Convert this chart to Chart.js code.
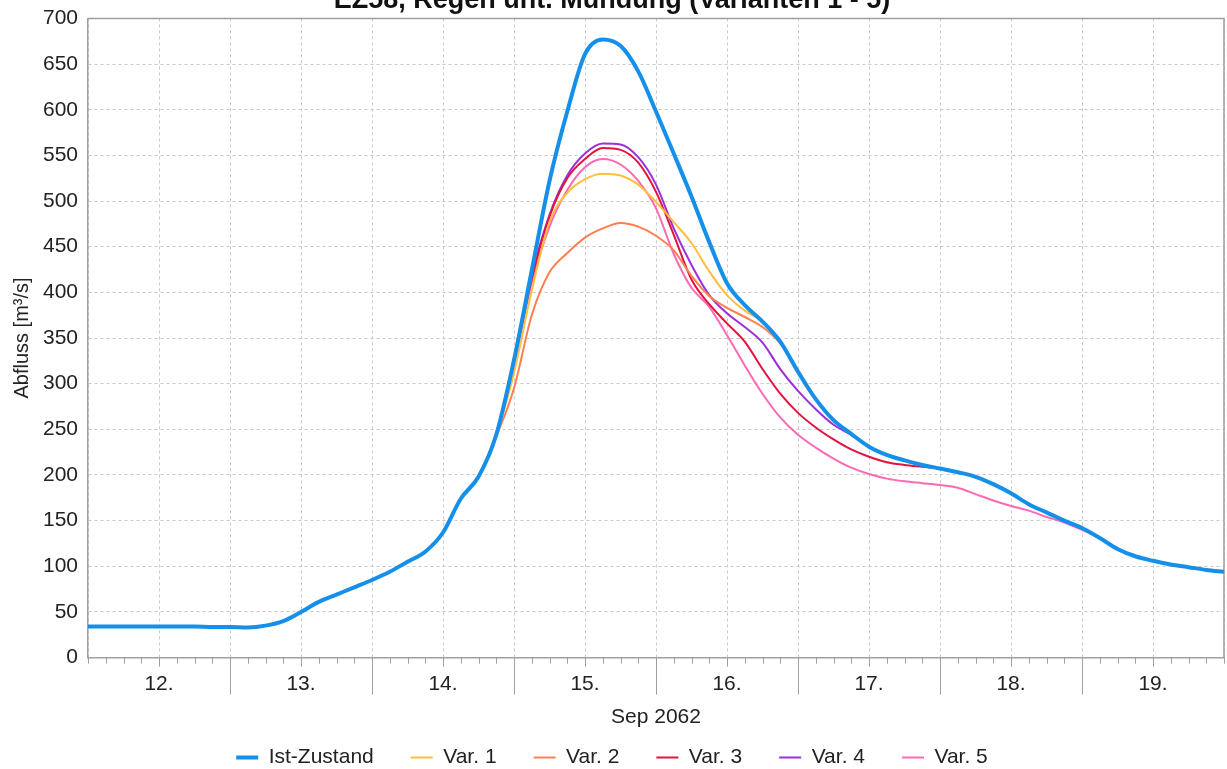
<!DOCTYPE html>
<html>
<head>
<meta charset="utf-8">
<script src="https://cdn.jsdelivr.net/npm/chart.js@4/dist/chart.umd.min.js"></script>
<style>
  html, body { margin: 0; padding: 0; background: #fff; overflow: hidden; }
  #wrap { position: absolute; left: 0; top: -16px; width: 1227px; height: 794px; }
</style>
</head>
<body>
<div id="wrap"><canvas id="chart"></canvas></div>
<script>
// hours since 12 Sep 2062 00:00, one sample every 3 h
const hours = [
  0, 3, 6, 9, 12, 15, 18, 21, 24, 27, 30, 33, 36, 39, 42, 45, 48, 51, 54, 57,
  60, 63, 66, 69, 72, 75, 78, 81, 84, 87, 90, 93, 96, 99, 102, 105, 108, 111, 114, 117,
  120, 123, 126, 129, 132, 135, 138, 141, 144, 147, 150, 153, 156, 159, 162, 165, 168, 171, 174, 177,
  180, 183, 186, 189, 192
];

const istZustand = [
  34, 34, 34, 34, 34, 34, 34, 33.5, 33.5, 33, 35, 40, 50, 61, 69, 77, 85, 94, 105, 116,
  137, 174, 198, 244, 326, 424, 522, 598, 661, 677, 670, 642, 598, 552, 505, 455, 410, 386, 368, 346,
  313, 283, 260, 245, 231, 222, 216, 211, 207, 203, 198, 190, 180, 168, 159, 150, 142, 131, 119, 111,
  106, 102, 99, 96, 94
];

const _ = null;
const var1 = [
  _, _, _, _, _, _, _, _, _, _, _, _, _, _, _, _, _, _, _, _,
  _, _, 198, 244, 312, 402, 477, 509, 524, 530, 528, 518, 499, 477, 454, 423, 397, 380, 368, 346,
  313, _, _, _, _, _, _, _, _, _, _, _, _, _, _, _, _, _, _, _,
  _, _, _, _, _
];
const var2 = [
  _, _, _, _, _, _, _, _, _, _, _, _, _, _, _, _, _, _, _, _,
  _, _, 198, 242, 295, 375, 422, 443, 460, 470, 476, 472, 462, 446, 418, 396, 383, 373, 362, 344,
  315, 284, 260, 245, _, _, _, _, _, _, _, _, _, _, _, _, _, _, _, _,
  _, _, _, _, _
];
const var3 = [
  _, _, _, _, _, _, _, _, _, _, _, _, _, _, _, _, _, _, _, _,
  _, _, 198, 244, 325, 415, 483, 525, 546, 558, 556, 542, 510, 463, 414, 387, 366, 346, 316, 289,
  268, 252, 239, 228, 220, 214, 211, 209, 207, 203, _, _, _, _, _, _, _, _, _, _,
  _, _, _, _, _
];
const var4 = [
  _, _, _, _, _, _, _, _, _, _, _, _, _, _, _, _, _, _, _, _,
  _, _, 198, 244, 326, 418, 485, 528, 552, 563, 562, 548, 518, 470, 430, 397, 377, 362, 345, 316,
  292, 272, 255, 244, 231, _, _, _, _, _, _, _, _, _, _, _, _, _, _, _,
  _, _, _, _, _
];
const var5 = [
  _, _, _, _, _, _, _, _, _, _, _, _, _, _, _, _, _, _, _, _,
  _, _, 198, 244, 322, 410, 472, 512, 537, 546, 540, 522, 492, 442, 405, 384, 353, 320, 289, 263,
  244, 230, 218, 208, 201, 196, 193, 191, 189, 186, 179, 172, 166, 161, 154, 148, 140, 131, 119, _,
  _, _, _, _, _
];

const seriesNames = ['Ist-Zustand', 'Var. 1', 'Var. 2', 'Var. 3', 'Var. 4', 'Var. 5'];
const yTicks = [0, 50, 100, 150, 200, 250, 300, 350, 400, 450, 500, 550, 600, 650, 700];
const firstDay = 12;

const colors = {
  ist: '#1590ea',
  v1: '#ffbe3c',
  v2: '#ff7f50',
  v3: '#e3123e',
  v4: '#9b30d9',
  v5: '#ff69b4',
  text: '#222222',
  grid: '#c9c9c9',
  axis: '#a0a0a0'
};
const family = "'Liberation Sans', Arial, Helvetica, sans-serif";

function series(label, values, color, width) {
  return {
    label,
    data: hours.map((h, i) => ({ x: h, y: values[i] })),
    borderColor: color,
    backgroundColor: color,
    borderWidth: width,
    pointRadius: 0,
    pointHoverRadius: 0,
    cubicInterpolationMode: 'monotone',
    spanGaps: false,
    fill: false
  };
}

// frame on top/right, plus the x tick marks (3 h short, noon a bit longer, midnight long)
const framePlugin = {
  id: 'frame',
  beforeDatasetsDraw(chart) {
    const { ctx, chartArea: a } = chart;
    ctx.save();
    ctx.strokeStyle = colors.axis;
    ctx.lineWidth = 1.5;
    ctx.beginPath();
    ctx.moveTo(a.left, a.top);
    ctx.lineTo(a.right, a.top);
    ctx.lineTo(a.right, a.bottom);
    ctx.stroke();
    ctx.restore();
  },
  afterDraw(chart) {
    const { ctx, chartArea: a, scales: { x } } = chart;
    ctx.save();
    ctx.strokeStyle = colors.axis;
    ctx.lineWidth = 1;
    hours.forEach(h => {
      let len = 6;
      if (h % 24 === 0 && h > 0 && h < 192) len = 37;
      else if (h % 24 === 12) len = 9;
      const px = Math.round(x.getPixelForValue(h)) + 0.5;
      ctx.beginPath();
      ctx.moveTo(px, a.bottom);
      ctx.lineTo(px, a.bottom + len);
      ctx.stroke();
    });
    ctx.restore();
  }
};

new Chart(document.getElementById('chart'), {
  type: 'line',
  data: {
    datasets: [
      series(seriesNames[0], istZustand, colors.ist, 4),
      series(seriesNames[1], var1, colors.v1, 2),
      series(seriesNames[2], var2, colors.v2, 2),
      series(seriesNames[3], var3, colors.v3, 2),
      series(seriesNames[4], var4, colors.v4, 2),
      series(seriesNames[5], var5, colors.v5, 2)
    ]
  },
  options: {
    responsive: true,
    maintainAspectRatio: false,
    animation: false,
    layout: { padding: { left: 0, right: 3, top: 0, bottom: 0 } },
    plugins: {
      title: {
        display: true,
        text: 'EZ58, Regen unt. Mündung (Varianten 1 - 5)',
        color: '#111',
        font: { family, size: 27, weight: 'bold', lineHeight: 1.2 },
        padding: { top: 0, bottom: 2 }
      },
      legend: {
        position: 'bottom',
        labels: {
          usePointStyle: true,
          pointStyle: 'line',
          pointStyleWidth: 22,
          padding: 37,
          color: colors.text,
          font: { family, size: 21 }
        }
      },
      tooltip: { enabled: false }
    },
    scales: {
      x: {
        type: 'linear',
        min: hours[0],
        max: hours[hours.length - 1],
        afterBuildTicks: s => { s.ticks = hours.map(v => ({ value: v })); },
        afterFit: s => { s.height = 52.4; },
        ticks: {
          autoSkip: false,
          maxRotation: 0,
          minRotation: 0,
          padding: 0,
          color: colors.text,
          font: { family, size: 21 },
          callback: v => (v % 24 === 12 ? (firstDay + Math.floor(v / 24)) + '.' : '')
        },
        grid: {
          color: c => (c.tick && c.tick.value % 12 === 0 ? colors.grid : 'rgba(0,0,0,0)'),
          tickColor: 'rgba(0,0,0,0)',
          tickLength: 14,
          lineWidth: 1
        },
        border: { color: colors.axis, width: 1.5, dash: [3, 3] },
        title: {
          display: true,
          text: 'Sep 2062',
          color: colors.text,
          font: { family, size: 21 },
          padding: { top: 0, bottom: -20 }
        }
      },
      y: {
        min: yTicks[0],
        max: yTicks[yTicks.length - 1],
        afterBuildTicks: s => { s.ticks = yTicks.map(v => ({ value: v })); },
        afterFit: s => { s.width = 88; },
        ticks: {
          padding: 10,
          color: colors.text,
          font: { family, size: 21 }
        },
        grid: { color: colors.grid, drawTicks: false, lineWidth: 1 },
        border: { color: colors.axis, width: 1.5, dash: [3, 3] },
        title: {
          display: true,
          text: 'Abfluss [m³/s]',
          color: colors.text,
          font: { family, size: 20 },
          padding: { top: 10, bottom: 0 }
        }
      }
    }
  },
  plugins: [framePlugin]
});
</script>
</body>
</html>
